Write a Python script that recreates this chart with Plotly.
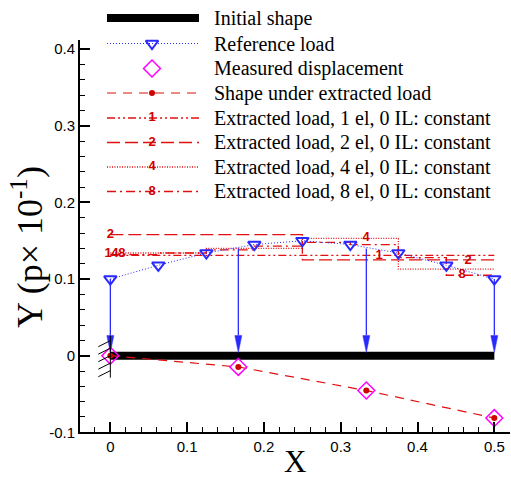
import plotly.graph_objects as go

W, H = 511, 478

# ---------------- data ----------------
x_ref = [0.0, 0.0625, 0.125, 0.1875, 0.25, 0.3125, 0.375, 0.4375, 0.5]
p_ref = [0.100, 0.118, 0.134, 0.145, 0.150, 0.145, 0.134, 0.118, 0.100]

x_nodes = [0.0, 1 / 6, 1 / 3, 0.5]
arrow_top = [0.100, 0.140, 0.140, 0.100]
disp_measured = [0.0, -0.0147, -0.0455, -0.0814]
disp_extracted = [0.0, -0.0147, -0.0455, -0.0814]

beam_x = [0.0, 0.5]
beam_y = [0.0, 0.0]

load_1el = [0.131]
load_2el = [0.158, 0.125]
load_4el = [0.134, 0.140, 0.153, 0.113]
load_8el = [0.132, 0.134, 0.138, 0.143, 0.148, 0.145, 0.128, 0.105]

# curve labels (text, x, y)
label_text = ["2", "1", "4", "8", "1", "2", "4", "8"]
label_x = [0.0, -0.003, 0.006, 0.015, 0.35, 0.466, 0.333, 0.458]
label_y = [0.158, 0.1335, 0.1335, 0.1335, 0.131, 0.124, 0.1535, 0.105]

legend_names = [
    "Initial shape",
    "Reference load",
    "Measured displacement",
    "Shape under extracted load",
    "Extracted load, 1 el, 0 IL: constant",
    "Extracted load, 2 el, 0 IL: constant",
    "Extracted load, 4 el, 0 IL: constant",
    "Extracted load, 8 el, 0 IL: constant",
]

x_ticks = [0, 0.1, 0.2, 0.3, 0.4, 0.5]
x_tick_labels = ["0", "0.1", "0.2", "0.3", "0.4", "0.5"]
y_ticks = [-0.1, 0, 0.1, 0.2, 0.3, 0.4]
y_tick_labels = ["-0.1", "0", "0.1", "0.2", "0.3", "0.4"]

# ---------------- layout geometry ----------------
X_RANGE = [-0.0395, 0.5204]
Y_RANGE = [-0.1, 0.412]
PX_L, PX_R = 80, 510
PX_T, PX_B = 40, 432.3
XPU = (PX_R - PX_L) / (X_RANGE[1] - X_RANGE[0])   # px per x unit
YPU = (PX_B - PX_T) / (Y_RANGE[1] - Y_RANGE[0])   # px per y unit

RED = "#e01010"
BLUE = "#2a2aff"
MAG = "#ff00ff"
LBL_RED = "#d00000"

DASH_SHAPE = "9px,7px"
DASH_1 = "8px,3px,2px,3px,2px,3px"
DASH_2 = "13px,5px"
DASH_4 = "1px,1.5px"
DASH_8 = "9px,4px,2px,4px"

fig = go.Figure()


def step_xy(vals):
    n = len(vals)
    xs = [0.5 * i / n for i in range(n + 1)]
    ys = list(vals) + [vals[-1]]
    return xs, ys


# initial shape (beam)
fig.add_trace(go.Scatter(x=beam_x, y=beam_y, mode="lines",
                         line=dict(color="black", width=8), hoverinfo="skip"))

# step loads
for vals, dash in [(load_1el, DASH_1), (load_2el, DASH_2), (load_4el, DASH_4), (load_8el, DASH_8)]:
    xs, ys = step_xy(vals)
    fig.add_trace(go.Scatter(x=xs, y=ys, mode="lines", line_shape="hv",
                             line=dict(color=RED, width=1.3, dash=dash), hoverinfo="skip"))

# reference load
fig.add_trace(go.Scatter(x=x_ref, y=p_ref, mode="lines+markers",
                         line=dict(color=BLUE, width=1, dash="1px,2px"),
                         marker=dict(symbol="triangle-down-open", size=11,
                                     color=BLUE, line=dict(width=2, color=BLUE))))

# arrows (shafts + heads)
tip_y = 0.004
head_len = 17 / YPU
head_half = 3.5 / XPU
for xn, yt in zip(x_nodes, arrow_top):
    fig.add_trace(go.Scatter(x=[xn, xn], y=[yt, tip_y + head_len], mode="lines",
                             line=dict(color=BLUE, width=1.3), hoverinfo="skip"))
    fig.add_shape(type="path", xref="x", yref="y",
                  path=f"M {xn - head_half},{tip_y + head_len} L {xn + head_half},{tip_y + head_len} L {xn},{tip_y} Z",
                  fillcolor=BLUE, line=dict(color=BLUE, width=0.5))

# clamp at x = 0
fig.add_shape(type="line", xref="x", yref="y", x0=0, x1=0, y0=20 / YPU, y1=-22 / YPU,
              line=dict(color="black", width=1))
for k in range(5):
    yr = (15 - 7.5 * k) / YPU
    fig.add_shape(type="line", xref="x", yref="y", x0=0, y0=yr,
                  x1=-12 / XPU, y1=yr - 6 / YPU, line=dict(color="black", width=1))

# shape under extracted load
fig.add_trace(go.Scatter(x=x_nodes, y=disp_extracted, mode="lines+markers",
                         line=dict(color=RED, width=1.2, dash=DASH_SHAPE),
                         marker=dict(symbol="circle", size=6, color=LBL_RED)))
# measured displacement
fig.add_trace(go.Scatter(x=x_nodes, y=disp_measured, mode="markers",
                         marker=dict(symbol="diamond-open", size=13, color=MAG,
                                     line=dict(width=1.5, color=MAG))))

# curve labels
fig.add_trace(go.Scatter(x=label_x, y=label_y, mode="text",
                         text=[f"<b>{t}</b>" for t in label_text],
                         textfont=dict(family="Liberation Sans", size=13, color=LBL_RED),
                         textposition="middle center", hoverinfo="skip"))

# ---------------- custom legend (pixel axes) ----------------
rows = [18, 43.5, 68.5, 93, 118, 142.5, 167, 191.5]
LX0, LX1, LXM = 107, 199, 152
leg_styles = [
    dict(line=dict(color="black", width=8), mode="lines"),
    dict(line=dict(color=BLUE, width=1, dash="1px,2px"), mode="lines"),
    None,
    dict(line=dict(color=RED, width=1.2, dash=DASH_SHAPE), mode="lines"),
    dict(line=dict(color=RED, width=1.3, dash=DASH_1), mode="lines"),
    dict(line=dict(color=RED, width=1.3, dash=DASH_2), mode="lines"),
    dict(line=dict(color=RED, width=1.3, dash=DASH_4), mode="lines"),
    dict(line=dict(color=RED, width=1.3, dash=DASH_8), mode="lines"),
]
for ry, st in zip(rows, leg_styles):
    if st is not None:
        fig.add_trace(go.Scatter(x=[LX0, LX1], y=[ry, ry], xaxis="x2", yaxis="y2",
                                 hoverinfo="skip", **st))
fig.add_trace(go.Scatter(x=[LXM], y=[rows[1]], xaxis="x2", yaxis="y2", mode="markers",
                         marker=dict(symbol="triangle-down-open", size=11, color=BLUE,
                                     line=dict(width=2, color=BLUE))))
fig.add_trace(go.Scatter(x=[LXM], y=[rows[2]], xaxis="x2", yaxis="y2", mode="markers",
                         marker=dict(symbol="diamond-open", size=13, color=MAG,
                                     line=dict(width=1.5, color=MAG))))
fig.add_trace(go.Scatter(x=[LXM], y=[rows[3]], xaxis="x2", yaxis="y2", mode="markers",
                         marker=dict(symbol="circle", size=6, color=LBL_RED)))
fig.add_trace(go.Scatter(x=[LXM] * 4, y=rows[4:], xaxis="x2", yaxis="y2", mode="text",
                         text=["<b>1</b>", "<b>2</b>", "<b>4</b>", "<b>8</b>"],
                         textfont=dict(family="Liberation Sans", size=13, color=LBL_RED),
                         textposition="middle center", hoverinfo="skip"))

annotations = []
for ry, name in zip(rows, legend_names):
    annotations.append(dict(x=212 / W, y=1 - ry / H, xref="paper", yref="paper",
                            text=name, showarrow=False, xanchor="left", yanchor="middle",
                            font=dict(family="Liberation Serif", size=20, color="black")))
# axis titles
annotations.append(dict(x=295 / W, y=1 - 461 / H, xref="paper", yref="paper", text="X",
                        showarrow=False, xanchor="center", yanchor="middle",
                        font=dict(family="Liberation Serif", size=31, color="black")))
annotations.append(dict(x=27 / W, y=1 - 247 / H, xref="paper", yref="paper",
                        text="Y (p× 10<sup>-1</sup>)", textangle=-90,
                        showarrow=False, xanchor="center", yanchor="middle",
                        font=dict(family="Liberation Serif", size=36, color="black")))

axis_common = dict(showgrid=False, zeroline=False, showline=True, linecolor="black",
                   linewidth=2, ticks="inside", ticklen=10, tickwidth=2, tickcolor="black",
                   tickfont=dict(family="Liberation Sans", size=15, color="black"),
                   fixedrange=True, automargin=False)

fig.update_layout(
    width=W, height=H, autosize=False,
    margin=dict(l=0, r=0, t=0, b=0, pad=0, autoexpand=False),
    paper_bgcolor="white", plot_bgcolor="rgba(0,0,0,0)",
    showlegend=False,
    xaxis=dict(domain=[PX_L / W, PX_R / W], range=X_RANGE, tickvals=x_ticks,
               ticktext=x_tick_labels,
               minor=dict(dtick=0.02, tick0=0, ticks="inside", ticklen=5, tickwidth=1,
                          tickcolor="black"),
               anchor="y", **axis_common),
    yaxis=dict(domain=[1 - PX_B / H, 1 - PX_T / H], range=Y_RANGE, tickvals=y_ticks,
               ticktext=y_tick_labels,
               minor=dict(dtick=0.02, tick0=0, ticks="inside", ticklen=5, tickwidth=1,
                          tickcolor="black"),
               anchor="x", **axis_common),
    xaxis2=dict(domain=[0, 1], range=[0, W], visible=False, anchor="y2", fixedrange=True,
                automargin=False),
    yaxis2=dict(domain=[0, 1], range=[H, 0], visible=False, anchor="x2", fixedrange=True,
                automargin=False),
    annotations=annotations,
)

fig.write_html("out.html")
